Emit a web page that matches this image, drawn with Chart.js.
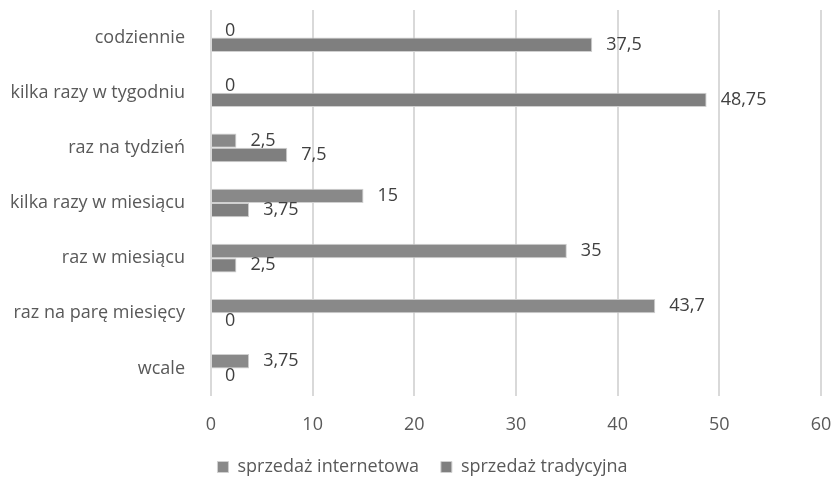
<!DOCTYPE html>
<html lang="pl">
<head>
  <meta charset="UTF-8">
  <title>Sprzedaż</title>
  <style>
    html, body { margin: 0; padding: 0; background: #fff; }
    .wrap { width: 836px; height: 481px; }
  </style>
</head>
<body>
  <div class="wrap"><canvas id="chart"></canvas></div>

  <script src="https://cdn.jsdelivr.net/npm/chart.js"></script>
  <script>
    const categories = ['codziennie', 'kilka razy w tygodniu', 'raz na tydzień', 'kilka razy w miesiącu', 'raz w miesiącu', 'raz na parę miesięcy', 'wcale'];
    const internetowa = [0, 0, 2.5, 15, 35, 43.7, 3.75];
    const tradycyjna = [37.5, 48.75, 7.5, 3.75, 2.5, 0, 0];
    const xTicks = [0, 10, 20, 30, 40, 50, 60];

    const FONT = '"Open Sans", sans-serif';
    const SIZE = 18;

    // value labels to the right of each bar, Polish decimal comma
    const valueLabels = {
      id: 'valueLabels',
      afterDatasetsDraw(chart) {
        const ctx = chart.ctx;
        ctx.save();
        ctx.font = SIZE + 'px ' + FONT;
        ctx.fillStyle = '#404040';
        ctx.textBaseline = 'middle';
        chart.data.datasets.forEach((ds, i) => {
          chart.getDatasetMeta(i).data.forEach((bar, j) => {
            const txt = String(ds.data[j]).replace('.', ',');
            ctx.fillText(txt, bar.x + 14, bar.y);
          });
        });
        ctx.restore();
      }
    };

    new Chart(document.getElementById('chart'), {
      type: 'bar',
      data: {
        labels: categories,
        datasets: [
          { label: 'sprzedaż internetowa', data: internetowa, backgroundColor: '#898989', borderColor: '#d0d0d0', borderWidth: 1 },
          { label: 'sprzedaż tradycyjna', data: tradycyjna, backgroundColor: '#7f7f7f', borderColor: '#d0d0d0', borderWidth: 1 }
        ]
      },
      options: {
        indexAxis: 'y',
        responsive: true,
        maintainAspectRatio: false,
        animation: false,
        categoryPercentage: 0.52,
        barPercentage: 1,
        layout: { padding: { top: 10, right: 0, left: 9, bottom: -5 } },
        scales: {
          x: {
            min: 0,
            max: 60,
            afterBuildTicks(axis) { axis.ticks = xTicks.map(v => ({ value: v })); },
            afterFit(axis) { axis.height = 40; axis.paddingLeft = 0; axis.paddingRight = 15; },
            grid: { color: '#d9d9d9', lineWidth: 2, drawTicks: false },
            border: { display: false },
            ticks: { color: '#595959', font: { size: SIZE, family: FONT }, padding: 18 }
          },
          y: {
            afterFit(axis) { axis.width = 202; axis.paddingTop = 0; axis.paddingBottom = 0; },
            grid: { display: false },
            border: { display: false },
            ticks: { color: '#595959', font: { size: SIZE, family: FONT }, padding: 18 }
          }
        },
        plugins: {
          legend: {
            position: 'bottom',
            labels: { color: '#595959', font: { size: SIZE, family: FONT }, boxWidth: 11, boxHeight: 11, padding: 22 }
          },
          tooltip: { enabled: false }
        }
      },
      plugins: [valueLabels]
    });
  </script>
</body>
</html>
